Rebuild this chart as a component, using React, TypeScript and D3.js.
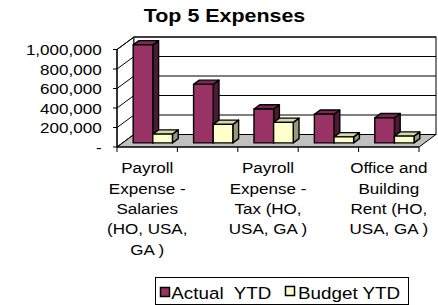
import React from "react";
import * as d3 from "d3";

const categories = [
  "Payroll Expense - Salaries (HO, USA, GA )",
  "Payroll Expense - Benefits (HO, USA, GA )",
  "Payroll Expense - Tax (HO, USA, GA )",
  "Professional Fees (HO, USA, GA )",
  "Office and Building Rent (HO, USA, GA )",
];
const seriesNames = ["Actual  YTD", "Budget YTD"];
const actualYTD = [1005000, 600000, 347000, 293000, 258000];
const budgetYTD = [90000, 190000, 210000, 62000, 69000];
const yTicks = [0, 200000, 400000, 600000, 800000, 1000000];
const shownLabelIdx = [0, 2, 4];

const W = 438;
const H = 305;
const DX = 17;
const DY = 12.5;
const D0 = 0.33;
const D1 = 0.67;
const FONT = "'Liberation Sans', Arial, sans-serif";
const FS = 15.5;
const SX = 1.1;
const LFS = 16.8;
const LSX = 1.12;

const colors = {
  actual: { front: "#993366", top: "#7a2952", side: "#4d1a33" },
  budget: { front: "#ffffcc", top: "#d6d6ab", side: "#99997a" },
};

function wrap(text: string, maxW: number): string[] {
  const canvas = document.createElement("canvas");
  const ctx = canvas.getContext("2d")!;
  ctx.font = `${FS}px 'Liberation Sans'`;
  const words = text.split(" ");
  const lines: string[] = [];
  let cur = "";
  for (const w of words) {
    const t = cur ? cur + " " + w : w;
    if (ctx.measureText(t).width * SX > maxW && cur) {
      lines.push(cur);
      cur = w;
    } else cur = t;
  }
  if (cur) lines.push(cur);
  return lines;
}

export default function App() {
  const x = d3
    .scaleBand<string>()
    .domain(categories)
    .range([117, 419])
    .paddingInner(0.35)
    .paddingOuter(0.175);
  const step = x.step();
  const xs = d3.scaleBand<number>().domain([0, 1]).range([0, x.bandwidth()]);
  const y = d3.scaleLinear().domain([0, 1000000]).range([147, 49.5]);
  const left = 117;
  const right = 419;
  const y0 = y(0);
  const yMax = y(1000000);

  const pts = (a: number[][]) => a.map((p) => p.join(",")).join(" ");

  const bars: JSX.Element[] = [];
  categories.forEach((c, i) => {
    [actualYTD, budgetYTD].forEach((arr, s) => {
      const col = s === 0 ? colors.actual : colors.budget;
      const bx0 = (x(c) as number) + (xs(s) as number) + D0 * DX;
      const bx1 = bx0 + xs.bandwidth();
      const yt = y(arr[i]) - D0 * DY;
      const yb = y0 - D0 * DY;
      const ddx = (D1 - D0) * DX;
      const ddy = (D1 - D0) * DY;
      const common = { stroke: "#000", strokeWidth: 1.4, strokeLinejoin: "round" as const };
      bars.push(
        <g key={`${i}-${s}`}>
          <polygon
            points={pts([[bx1, yt], [bx1 + ddx, yt - ddy], [bx1 + ddx, yb - ddy], [bx1, yb]])}
            fill={col.side}
            {...common}
          />
          <polygon
            points={pts([[bx0, yt], [bx1, yt], [bx1 + ddx, yt - ddy], [bx0 + ddx, yt - ddy]])}
            fill={col.top}
            {...common}
          />
          <rect x={bx0} y={yt} width={bx1 - bx0} height={yb - yt} fill={col.front} {...common} />
        </g>
      );
    });
  });

  return (
    <svg
      width={W}
      height={H}
      style={{ position: "absolute", left: 0, top: 0, background: "#fff" }}
      fontFamily={FONT}
    >
      <text
        transform={`translate(224.5,21.7) scale(1.14,1)`}
        textAnchor="middle"
        fontWeight="bold"
        fontSize={18.8}
      >
        Top 5 Expenses
      </text>

      {/* walls */}
      <polygon
        points={pts([[left, y0], [left, yMax], [left + DX, yMax - DY], [left + DX, y0 - DY]])}
        fill="#fff"
        stroke="#000"
        strokeWidth={1}
      />
      <rect
        x={left + DX}
        y={yMax - DY}
        width={right - left}
        height={y0 - yMax}
        fill="#fff"
        stroke="#000"
        strokeWidth={1}
      />
      {yTicks.map((t) => (
        <g key={t}>
          <line x1={left} y1={y(t)} x2={left + DX} y2={y(t) - DY} stroke="#000" strokeWidth={1} />
          <line x1={left + DX} y1={y(t) - DY} x2={right + DX} y2={y(t) - DY} stroke="#000" strokeWidth={1} />
        </g>
      ))}
      {/* floor */}
      <polygon
        points={pts([[left, y0], [right, y0], [right + DX, y0 - DY], [left + DX, y0 - DY]])}
        fill="#c0c0c0"
        stroke="#000"
        strokeWidth={1}
      />
      {bars}

      {/* axes */}
      <line x1={left} y1={y0} x2={left} y2={yMax} stroke="#000" strokeWidth={1.2} />
      <line x1={left} y1={y0} x2={right} y2={y0} stroke="#000" strokeWidth={1.2} />
      {yTicks.map((t) => (
        <g key={"yt" + t}>
          <line x1={left - 4} y1={y(t)} x2={left} y2={y(t)} stroke="#000" strokeWidth={1} />
          <text
            transform={`translate(101.7,${y(t) + 5.5}) scale(${SX},1)`}
            textAnchor="end"
            fontSize={FS}
          >
            {t === 0 ? "-" : d3.format(",")(t)}
          </text>
        </g>
      ))}
      {d3.range(categories.length + 1).map((i) => (
        <line
          key={"xt" + i}
          x1={left + i * step}
          y1={y0}
          x2={left + i * step}
          y2={y0 + 5}
          stroke="#000"
          strokeWidth={1}
        />
      ))}
      {shownLabelIdx.map((i) => {
        const cx = left + (i + 0.5) * step;
        const lines = wrap(categories[i], 95);
        return (
          <g key={"cl" + i}>
            {lines.map((ln, j) => (
              <text
                key={j}
                transform={`translate(${cx},${173.3 + j * 20.3}) scale(${SX},1)`}
                textAnchor="middle"
                fontSize={FS}
              >
                {ln}
              </text>
            ))}
          </g>
        );
      })}

      {/* legend */}
      <rect x={155.5} y={277.5} width={253} height={27} fill="#fff" stroke="#000" strokeWidth={1} />
      <rect x={160.5} y={287.5} width={9} height={9} fill={colors.actual.front} stroke="#000" strokeWidth={1.5} />
      <text
        transform={`translate(171.3,299.3) scale(${LSX},1)`}
        fontSize={LFS}
        style={{ whiteSpace: "pre" }}
      >
        {seriesNames[0]}
      </text>
      <rect x={285.5} y={286.5} width={9} height={9} fill={colors.budget.front} stroke="#000" strokeWidth={1.5} />
      <text
        transform={`translate(298,299.3) scale(${LSX},1)`}
        fontSize={LFS}
        style={{ whiteSpace: "pre" }}
      >
        {seriesNames[1]}
      </text>
    </svg>
  );
}
